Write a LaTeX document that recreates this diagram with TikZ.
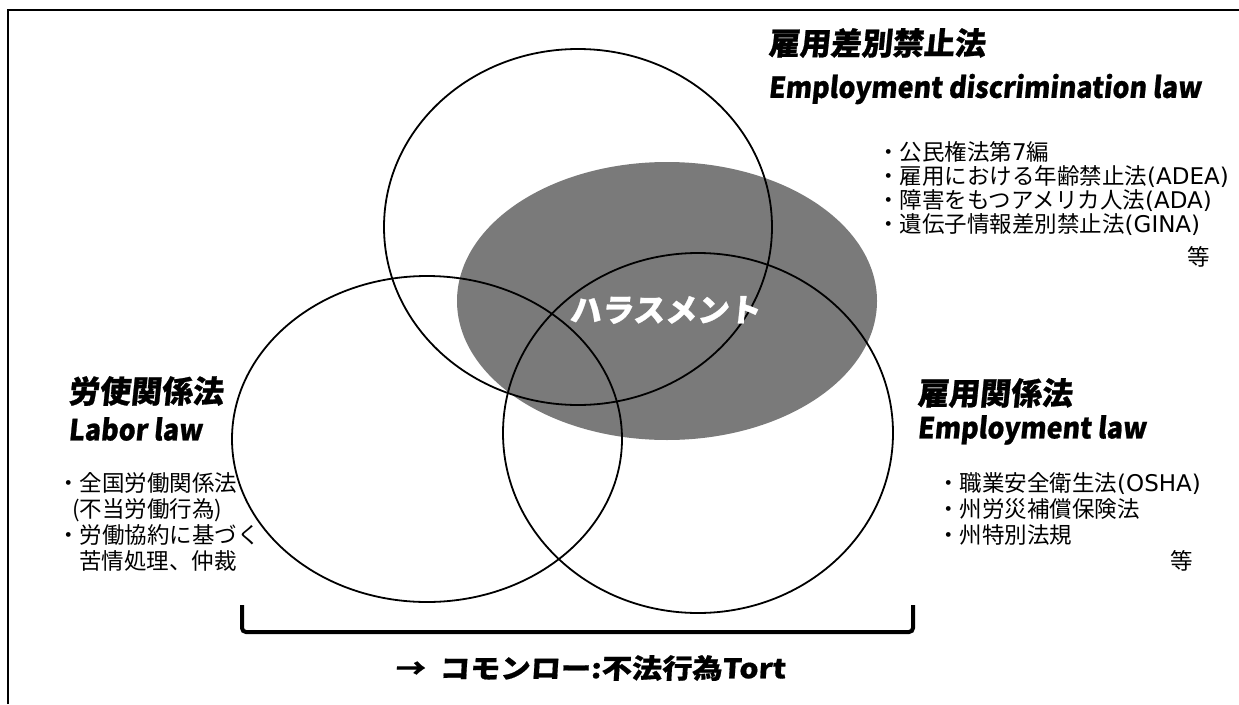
\documentclass[tikz,border=0pt]{standalone}
\usepackage{fontspec}
\usetikzlibrary{shapes.geometric}
\newfontfamily\jp{Noto Sans CJK JP}
\newfontfamily\jph{Noto Sans CJK JP}[FakeSlant=0.1,FakeBold=0.8]
\newfontfamily\enh{Noto Sans CJK JP}[FakeSlant=0.1,FakeStretch=0.92,FakeBold=0.8]
\newfontfamily\jpw{Noto Sans CJK JP}[FakeSlant=0.06,FakeStretch=1.12,FakeBold=0.6]
\newfontfamily\latfont{DejaVu Sans}
\newcommand\latn[1]{{\latfont\fontsize{23}{24}\selectfont #1}}
\definecolor{hgray}{RGB}{122,122,122}
\tikzset{
  ring/.style={draw=black, line width=1.8pt, ellipse, inner sep=0pt},
  headjp/.style={font=\jph\bfseries\fontsize{31}{36}\selectfont, anchor=west, inner sep=0pt},
  headen/.style={font=\enh\bfseries\fontsize{29}{36}\selectfont, anchor=west, inner sep=0pt},
  items/.style={font=\jp\fontsize{22.5}{26}\selectfont, align=left, anchor=north west, inner sep=0pt},
}
\begin{document}
\begin{tikzpicture}[x=1pt,y=-1pt]
\useasboundingbox (0,0) rectangle (1239,704);
% frame
\coordinate (fbl) at (8,704);
\coordinate (ftl) at (8,10);
\coordinate (ftr) at (1239,10);
\draw[line width=2.2pt] (fbl) -- (ftl) -- (ftr);
% gray ellipse
\node[ellipse, fill=hgray, minimum width=420pt, minimum height=278pt, inner sep=0pt] (har) at (667,301) {};
% circles
\node[ring, minimum width=388pt, minimum height=356pt] (top) at (578,227) {};
\node[ring, minimum width=390pt, minimum height=326pt] (lft) at (427,439) {};
\node[ring, minimum width=390pt, minimum height=360pt] (rgt) at (698,433) {};
% harassment label
\node[font=\jph\bfseries\fontsize{32}{36}\selectfont, text=white, inner sep=0pt] (harl) at (665,310) {ハラスメント};
% headings
\node[headjp] (h1j) at (768,43) {雇用差別禁止法};
\node[headen] (h1e) at (768,89) {Employment discrimination law};
\node[headjp] (h2j) at (68,391) {労使関係法};
\node[headen] (h2e) at (68,429) {Labor law};
\node[headjp] (h3j) at (917,393) {雇用関係法};
\node[headen] (h3e) at (917,430) {Employment law};
% item lists
\node[items, font=\jp\fontsize{22.5}{24}\selectfont] (l1) at (877,141) {・公民権法第\latn{7}編\\・雇用における年齢禁止法\latn{(ADEA)}\\・障害をもつアメリカ人法\latn{(ADA)}\\・遺伝子情報差別禁止法\latn{(GINA)}\\[9pt]\hspace*{310pt}等};
\node[items] (l2) at (57,472) {・全国労働関係法\\\hspace*{15pt}(不当労働行為)\\・労働協約に基づく\\\hspace*{22pt}苦情処理、仲裁};
\node[items] (l3) at (937,472) {・職業安全衛生法\latn{(OSHA)}\\・州労災補償保険法\\・州特別法規\\\hspace*{233pt}等};
% bracket
\coordinate (bl) at (242,605);
\coordinate (br) at (913,605);
\draw[line width=4pt, rounded corners=4pt] (bl) -- ++(0,27) -| (br);
% common law
\node[font=\jpw\bfseries\fontsize{27}{30}\selectfont, anchor=west, inner sep=0pt] (tort) at (395,668) {→\hspace{14pt}コモンロー:不法行為Tort};
\end{tikzpicture}
\end{document}
